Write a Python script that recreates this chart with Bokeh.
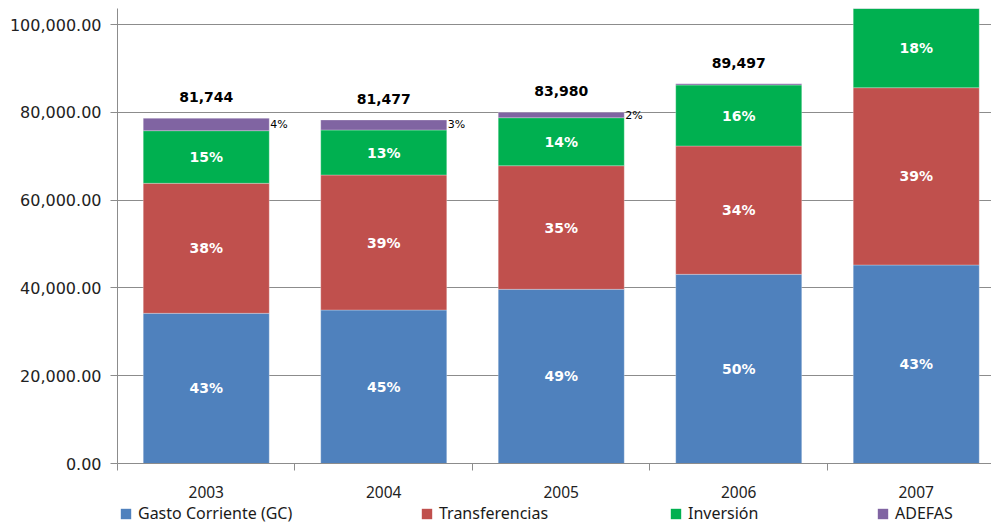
from bokeh.plotting import figure
from bokeh.layouts import column
from bokeh.models import (Range1d, FixedTicker, NumeralTickFormatter, Legend,
                          LegendItem, ColumnDataSource)
from bokeh.core.properties import value
from bokeh.embed import file_html
from bokeh.resources import INLINE

# ---- data ----
years = ["2003", "2004", "2005", "2006", "2007"]
gasto = [34230, 34980, 39700, 43120, 45240]
transferencias = [29630, 30770, 28170, 29240, 40410]
inversion = [11990, 10260, 10940, 13900, 18100]
adefas = [2830, 2280, 1230, 300, 300]
total_labels = ["81,744", "81,477", "83,980", "89,497", "107,033"]
pct_gasto = ["43%", "45%", "49%", "50%", "43%"]
pct_transf = ["38%", "39%", "35%", "34%", "39%"]
pct_inv = ["15%", "13%", "14%", "16%", "18%"]
pct_adefas = ["4%", "3%", "2%", "", ""]
y_ticks = [0, 20000, 40000, 60000, 80000, 100000]
series_names = ["Gasto Corriente (GC)", "Transferencias", "Inversión", "ADEFAS"]
colors = ["#4F81BD", "#C0504D", "#00B050", "#8064A2"]

BAR_W = 0.71
xs = [i + 0.5 for i in range(len(years))]

p = figure(width=991, height=501, output_backend="svg", toolbar_location=None,
           x_range=Range1d(0, 4.924), y_range=Range1d(0, 103700),
           min_border_left=117, min_border_right=0, min_border_top=8,
           min_border_bottom=38)
p.frame_align = False
p.outline_line_color = None
p.background_fill_color = "white"
p.border_fill_color = "white"

series = [gasto, transferencias, inversion, adefas]
bottoms = [0] * len(years)
mids = []
for vals, col in zip(series, colors):
    tops = [b + v for b, v in zip(bottoms, vals)]
    src = ColumnDataSource(dict(x=xs, bottom=bottoms, top=tops))
    p.vbar(x="x", bottom="bottom", top="top", width=BAR_W, source=src,
           fill_color=col, line_color="white", line_alpha=0.35, line_width=0.8)
    mids.append([(b + t) / 2 for b, t in zip(bottoms, tops)])
    bottoms = tops
totals_top = bottoms

# percentage labels inside bars
for mid, labels in zip(mids[:3], [pct_gasto, pct_transf, pct_inv]):
    p.text(x=xs, y=mid, text=labels, text_font=value("DejaVu Sans"),
           text_font_style="bold", text_font_size="14px", text_color="white",
           text_align="center", text_baseline="middle")

# ADEFAS labels to the right of bars
p.text(x=[x + BAR_W / 2 for x in xs], y=mids[3], text=pct_adefas,
       text_font=value("DejaVu Sans"), text_font_size="11px", text_color="black",
       text_align="left", text_baseline="middle", x_offset=1)

# totals above bars
p.text(x=xs, y=totals_top, text=total_labels, text_font=value("DejaVu Sans"),
       text_font_style="bold", text_font_size="14px", text_color="black",
       text_align="center", text_baseline="middle", y_offset=-21)

# axes
grey = "#8c8c8c"
xa = p.xaxis[0]
xa.ticker = FixedTicker(ticks=xs, minor_ticks=list(range(len(years) + 1)))
xa.major_label_overrides = {x: y for x, y in zip(xs, years)}
xa.major_tick_line_color = None
xa.major_tick_out = 0
xa.major_tick_in = 0
xa.minor_tick_line_color = grey
xa.minor_tick_out = 7
xa.minor_tick_in = 0
xa.axis_line_color = grey
xa.major_label_standoff = 15
xa.major_label_text_font = "Noto Sans"
xa.major_label_text_font_size = "15.5px"
xa.major_label_text_color = "#222222"

ya = p.yaxis[0]
ya.ticker = FixedTicker(ticks=y_ticks)
ya.formatter = NumeralTickFormatter(format="0,0.00")
ya.major_tick_out = 7
ya.major_tick_in = 0
ya.major_tick_line_color = grey
ya.minor_tick_line_color = None
ya.axis_line_color = grey
ya.major_label_standoff = 9
ya.major_label_text_font = "DejaVu Sans"
ya.major_label_text_font_size = "16px"
ya.major_label_text_color = "#222222"

p.xgrid.grid_line_color = None
p.ygrid.ticker = FixedTicker(ticks=y_ticks)
p.ygrid.grid_line_color = grey
p.ygrid.grid_line_width = 1

# ---- legend strip below the chart ----
lf = figure(width=991, height=24, output_backend="svg", toolbar_location=None,
            x_range=Range1d(0, 1), y_range=Range1d(0, 1),
            x_axis_type=None, y_axis_type=None,
            min_border_left=0, min_border_right=0, min_border_top=0,
            min_border_bottom=0)
lf.frame_align = False
lf.outline_line_color = None
lf.xgrid.grid_line_color = None
lf.ygrid.grid_line_color = None
lf.border_fill_color = "white"
lf.background_fill_color = "white"

# legend swatch renderers (one off-screen proxy bar per series)
legend_x = [119, 420, 669, 876]
for name, col, lx in zip(series_names, colors, legend_x):
    r = lf.vbar(x=[-10], top=[-10], bottom=[-11], width=0.1, fill_color=col,
                line_color=None)
    leg = Legend(items=[LegendItem(label=name, renderers=[r])], location=(lx, 1),
                 orientation="horizontal", border_line_color=None,
                 background_fill_alpha=0, padding=0, margin=0, spacing=0,
                 glyph_width=13, glyph_height=13, label_height=18, label_standoff=6,
                 label_text_font="Noto Sans", label_text_font_size="16px",
                 label_text_color="#1a1a1a", label_text_baseline="middle")
    lf.add_layout(leg)

layout = column(p, lf, spacing=0)
open("out.html", "w").write(file_html(layout, INLINE))
